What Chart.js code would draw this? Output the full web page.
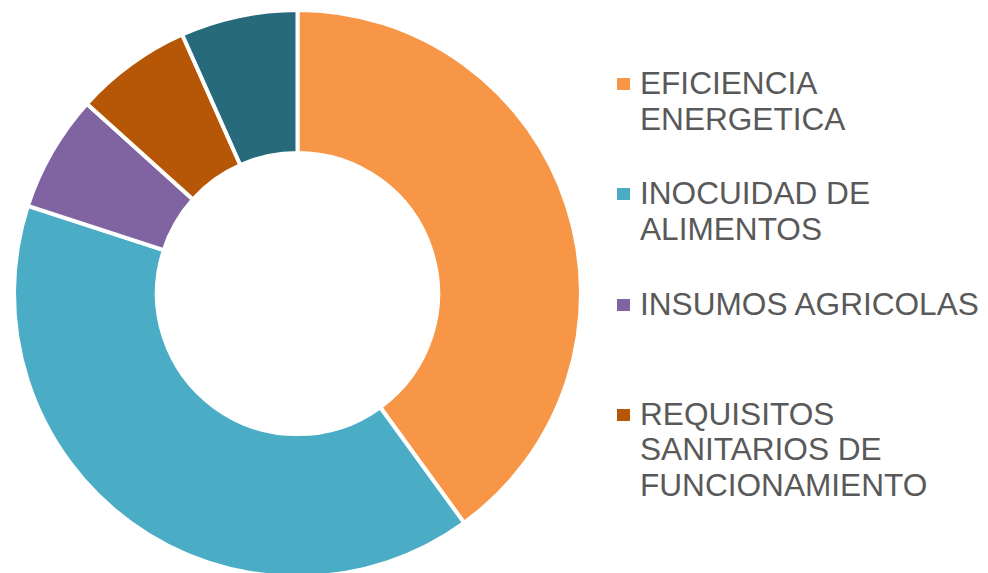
<!DOCTYPE html>
<html>
<head>
<meta charset="utf-8">
<script src="https://cdn.jsdelivr.net/npm/chart.js@4/dist/chart.umd.min.js"></script>
<style>
  html, body { margin: 0; padding: 0; width: 988px; height: 573px; overflow: hidden; background: #ffffff; }
  #wrap { position: absolute; left: 0; top: 0; width: 595px; height: 587px; }
  #legend { position: absolute; left: 0; top: 0; }
  .item { position: absolute; left: 640px; width: 348px; font-family: "Liberation Sans", Arial, sans-serif;
          font-size: 31.6px; line-height: 35.5px; color: #595959; white-space: normal; }
  .swatch { position: absolute; left: -23px; top: 12px; width: 13px; height: 12px; }
</style>
</head>
<body>
<div id="wrap"><canvas id="c"></canvas></div>
<div id="legend"></div>
<script>
// Data
const categories = [
  "EFICIENCIA ENERGETICA",
  "INOCUIDAD DE ALIMENTOS",
  "INSUMOS AGRICOLAS",
  "REQUISITOS SANITARIOS DE FUNCIONAMIENTO",
  "OTROS"
];
const values = [6, 6, 1, 1, 1];
const colors = ["#F79646", "#4BACC6", "#8064A2", "#B65708", "#276A7C"];
const legendShown = 4; // legend in the reference is truncated after four entries

new Chart(document.getElementById('c'), {
  type: 'doughnut',
  data: {
    labels: categories,
    datasets: [{
      data: values,
      backgroundColor: colors,
      borderColor: '#ffffff',
      borderWidth: 4,
      hoverOffset: 0
    }]
  },
  options: {
    responsive: true,
    maintainAspectRatio: false,
    animation: false,
    radius: 283.5,
    cutout: '49.6%',
    rotation: 0,
    layout: { padding: 0 },
    plugins: {
      legend: { display: false },
      tooltip: { enabled: false }
    }
  }
});

// HTML legend built from the data arrays
const legend = document.getElementById('legend');
for (let i = 0; i < legendShown; i++) {
  const d = document.createElement('div');
  d.className = 'item';
  d.style.top = (66 + i * 110.3) + 'px';
  const s = document.createElement('span');
  s.className = 'swatch';
  s.style.background = colors[i];
  d.appendChild(s);
  d.appendChild(document.createTextNode(categories[i]));
  legend.appendChild(d);
}
</script>
</body>
</html>
